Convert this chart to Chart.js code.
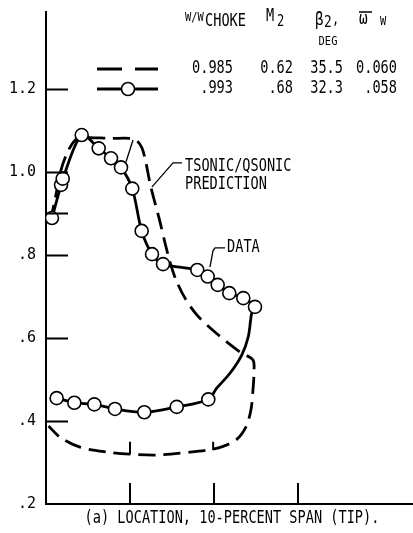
<!DOCTYPE html>
<html>
<head>
<meta charset="utf-8">
<script src="https://cdn.jsdelivr.net/npm/chart.js@4/dist/chart.umd.min.js"></script>
<style>
html,body{margin:0;padding:0;background:#fff;}
canvas{display:block;}
</style>
</head>
<body>
<canvas id="c" width="413" height="533"></canvas>
<script>
// ---- data (x: axial position units, y: surface Mach number-like quantity) ----
const yTickValues = [1.2, 1.0, 0.8, 0.6, 0.4, 0.2];
const yTickLabels = ['1.2', '1.0', '.8', '.6', '.4', '.2'];
const yInnerTicks = [1.2, 1.0, 0.9, 0.8, 0.6, 0.4];
const xInnerTicks = [1, 2, 3];

// measured data, upper surface (circles)
const dataUpperX = [0.071, 0.179, 0.199, 0.425, 0.627, 0.774, 0.893, 1.027, 1.139, 1.262, 1.393, 1.801, 1.925, 2.044, 2.182, 2.349, 2.488];
const dataUpperY = [0.889, 0.969, 0.984, 1.089, 1.057, 1.033, 1.011, 0.960, 0.858, 0.802, 0.778, 0.764, 0.748, 0.728, 0.708, 0.696, 0.675];
// faired data curve around trailing edge (no circles)
const dataTrailX = [2.449, 2.408, 2.330, 2.190, 2.032];
const dataTrailY = [0.660, 0.603, 0.559, 0.515, 0.479];
// measured data, lower surface (circles), trailing to leading edge
const dataLowerX = [1.932, 1.556, 1.170, 0.821, 0.575, 0.337, 0.127];
const dataLowerY = [0.452, 0.434, 0.421, 0.429, 0.440, 0.444, 0.455];

// TSONIC/QSONIC prediction (dashed loop)
const predX = [0.048, 0.107, 0.179, 0.274, 0.381, 0.524, 0.762, 1.000, 1.083, 1.143, 1.190, 1.238, 1.298, 1.357, 1.417, 1.476, 1.548, 1.655, 1.798, 2.024, 2.310, 2.464, 2.476, 2.464, 2.440, 2.381, 2.262, 2.107, 1.952, 1.714, 1.321, 1.000, 0.726, 0.405, 0.167, 0.030];
const predY = [0.880, 0.933, 1.005, 1.055, 1.082, 1.083, 1.081, 1.081, 1.075, 1.058, 1.022, 0.973, 0.925, 0.880, 0.829, 0.783, 0.740, 0.696, 0.655, 0.612, 0.566, 0.547, 0.518, 0.475, 0.427, 0.386, 0.354, 0.339, 0.331, 0.325, 0.318, 0.320, 0.325, 0.337, 0.361, 0.388];

// leader lines for labels
const leaderPredX = [1.619, 1.512, 1.262];
const leaderPredY = [1.022, 1.022, 0.964];
const leaderPred2X = [1.036, 0.952];
const leaderPred2Y = [1.077, 1.024];
const leaderDataX = [2.131, 2.012, 1.988, 1.952];
const leaderDataY = [0.817, 0.817, 0.810, 0.771];
// small station marks on the lower prediction curve
const markAX = [1.0, 1.0];
const markAY = [0.320, 0.350];
const markBX = [1.99, 1.99];
const markBY = [0.330, 0.350];

// labels
const labelPrediction = ['TSONIC/QSONIC', 'PREDICTION'];
const labelPredictionPos = {x: 1.655, y: [1.012, 0.969]};
const labelData = 'DATA';
const labelDataPos = {x: 2.155, y: 0.817};
const captionText = '(a) LOCATION, 10-PERCENT SPAN (TIP).';

// legend table
const legendPredictionValues = ['0.985', '0.62', '35.5', '0.060'];
const legendDataValues = ['.993', '.68', '32.3', '.058'];

const xMax = 4.369, yMin = 0.2, yMax = 1.3855;

function pts(xs, ys) { return xs.map((x, i) => ({x: x, y: ys[i]})); }

const FONT = '"DejaVu Sans Mono", "Liberation Mono", monospace';
function txt(ctx, s, x, y, size, align) {
  ctx.save();
  ctx.translate(x, y);
  ctx.scale(0.8, 1);
  ctx.font = size + 'px ' + FONT;
  ctx.textAlign = align || 'left';
  ctx.textBaseline = 'middle';
  ctx.fillStyle = '#000';
  ctx.fillText(s, 0, 0);
  ctx.restore();
}

const decor = {
  id: 'decor',
  afterDraw(chart) {
    const ctx = chart.ctx;
    const xs = chart.scales.x, ys = chart.scales.y;
    const ca = chart.chartArea;
    ctx.save();
    ctx.strokeStyle = '#000';
    ctx.lineWidth = 2;
    // inward y ticks
    yInnerTicks.forEach(v => {
      const py = Math.round(ys.getPixelForValue(v)) + 0.5;
      ctx.beginPath(); ctx.moveTo(ca.left, py); ctx.lineTo(ca.left + 22, py); ctx.stroke();
    });
    // inward x ticks
    xInnerTicks.forEach(v => {
      const px = Math.round(xs.getPixelForValue(v));
      ctx.beginPath(); ctx.moveTo(px, ca.bottom); ctx.lineTo(px, ca.bottom - 21); ctx.stroke();
    });
    ctx.restore();

    // annotations
    txt(ctx, labelPrediction[0], xs.getPixelForValue(labelPredictionPos.x), ys.getPixelForValue(labelPredictionPos.y[0]), 17);
    txt(ctx, labelPrediction[1], xs.getPixelForValue(labelPredictionPos.x), ys.getPixelForValue(labelPredictionPos.y[1]), 17);
    txt(ctx, labelData, xs.getPixelForValue(labelDataPos.x), ys.getPixelForValue(labelDataPos.y), 17);

    // caption
    txt(ctx, captionText, 232, 519, 17, 'center');

    // legend header
    txt(ctx, 'W/W', 185, 18, 13);
    txt(ctx, 'CHOKE', 205, 22, 17);
    txt(ctx, 'M', 266, 17, 17);
    txt(ctx, '2', 277, 22, 15);
    txt(ctx, 'β', 315, 20, 18);
    txt(ctx, '2', 324, 23, 16);
    txt(ctx, ',', 332, 20, 15);
    txt(ctx, 'DEG', 328, 42, 13, 'center');
    txt(ctx, 'ω', 359, 19, 18);
    txt(ctx, 'W', 380, 22, 13);
    ctx.save();
    ctx.strokeStyle = '#000'; ctx.lineWidth = 1.5;
    ctx.beginPath(); ctx.moveTo(359, 12); ctx.lineTo(372, 12); ctx.stroke();
    ctx.restore();

    // legend rows
    const colRight = [233, 293, 343, 397];
    legendPredictionValues.forEach((s, i) => txt(ctx, s, colRight[i], 69, 17, 'right'));
    legendDataValues.forEach((s, i) => txt(ctx, s, colRight[i], 89, 17, 'right'));
    ctx.save();
    ctx.strokeStyle = '#000'; ctx.lineWidth = 3;
    ctx.beginPath(); ctx.moveTo(97, 69); ctx.lineTo(122, 69); ctx.moveTo(135, 69); ctx.lineTo(158, 69); ctx.stroke();
    ctx.beginPath(); ctx.moveTo(97, 89); ctx.lineTo(158, 89); ctx.stroke();
    ctx.beginPath(); ctx.arc(128, 89, 6.5, 0, Math.PI * 2);
    ctx.fillStyle = '#fff'; ctx.fill();
    ctx.lineWidth = 1.6; ctx.stroke();
    ctx.restore();
  }
};

const thin = (xs, ys) => ({
  data: pts(xs, ys), showLine: true, borderColor: '#000', borderWidth: 1.3,
  pointRadius: 0, tension: 0, fill: false
});

function noPad(s) { s.paddingTop = 0; s.paddingBottom = 0; s.paddingLeft = 0; s.paddingRight = 0; }

new Chart(document.getElementById('c'), {
  type: 'scatter',
  data: {
    datasets: [
      {
        label: 'DATA points',
        data: pts(dataUpperX.concat(dataLowerX), dataUpperY.concat(dataLowerY)),
        showLine: false,
        pointRadius: 6.5,
        pointBackgroundColor: '#fff',
        pointBorderColor: '#000',
        pointBorderWidth: 1.6
      },
      {
        label: 'DATA',
        data: pts(dataUpperX.concat(dataTrailX, dataLowerX), dataUpperY.concat(dataTrailY, dataLowerY)),
        showLine: true,
        borderColor: '#000',
        borderWidth: 2.8,
        pointRadius: 0,
        tension: 0.3,
        fill: false
      },
      {
        label: 'TSONIC/QSONIC PREDICTION',
        data: pts(predX, predY),
        showLine: true,
        borderColor: '#000',
        borderWidth: 2.8,
        borderDash: [17, 8],
        pointRadius: 0,
        tension: 0.3,
        fill: false
      },
      thin(leaderPredX, leaderPredY),
      thin(leaderPred2X, leaderPred2Y),
      thin(leaderDataX, leaderDataY),
      Object.assign(thin(markAX, markAY), {borderWidth: 2}),
      Object.assign(thin(markBX, markBY), {borderWidth: 2})
    ]
  },
  options: {
    responsive: false,
    animation: false,
    devicePixelRatio: 1,
    layout: {autoPadding: false, padding: {top: 12, left: 0, right: 0, bottom: 0}},
    plugins: {legend: {display: false}, tooltip: {enabled: false}},
    scales: {
      x: {
        type: 'linear', min: 0, max: xMax,
        grid: {display: false, drawTicks: false},
        border: {display: true, color: '#000', width: 2},
        ticks: {display: false},
        afterFit(s) { s.height = 29; noPad(s); }
      },
      y: {
        type: 'linear', min: yMin, max: yMax,
        grid: {display: false, drawTicks: false},
        border: {display: true, color: '#000', width: 2},
        afterBuildTicks(s) { s.ticks = yTickValues.map(v => ({value: v})); },
        ticks: {
          padding: 10,
          color: '#000',
          font: {family: FONT, size: 15},
          callback: (v, i) => yTickLabels[i]
        },
        afterFit(s) { s.width = 46; noPad(s); }
      }
    }
  },
  plugins: [decor]
});
</script>
</body>
</html>
